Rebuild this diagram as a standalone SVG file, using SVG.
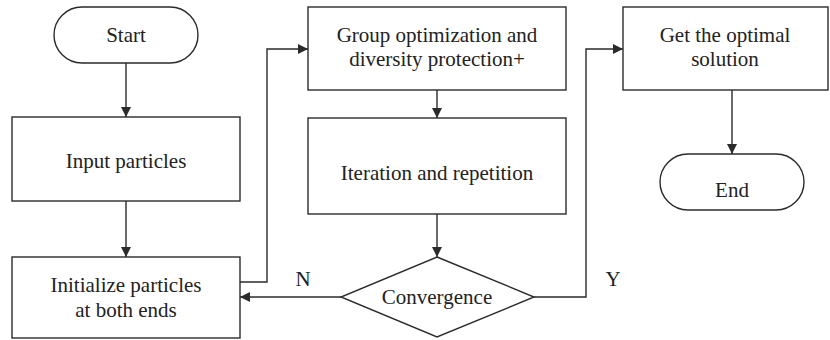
<svg xmlns="http://www.w3.org/2000/svg" width="830" height="340" viewBox="0 0 830 340">
  <style>
    .shape { fill: #ffffff; stroke: #2b2b2b; stroke-width: 1.4; }
    .label { font-family: "Liberation Serif", "Times New Roman", serif; font-size: 21px; fill: #222222; text-anchor: middle; }
    .wire { fill: none; stroke: #2b2b2b; stroke-width: 1.4; marker-end: url(#arrow); }
    .plain { fill: none; stroke: #2b2b2b; stroke-width: 1.4; }
  </style>
  <defs>
    <marker id="arrow" viewBox="0 0 10 10" refX="10" refY="5" markerWidth="10" markerHeight="10" markerUnits="userSpaceOnUse" orient="auto">
      <path d="M0,0 L10,5 L0,10 Z" fill="#2b2b2b"/>
    </marker>
  </defs>
  <rect width="830" height="340" fill="#ffffff"/>

  <g id="connectors">
    <path class="wire" d="M126,63 V117"/>
    <path class="wire" d="M126,201 V257"/>
    <path class="wire" d="M240,282 H267 V49 H308"/>
    <path class="wire" d="M437,90 V118"/>
    <path class="wire" d="M437,214 V257"/>
    <path class="wire" d="M341,297 H240"/>
    <path class="wire" d="M534,297 H586 V49 H623"/>
    <path class="wire" d="M732,90 V154"/>
    <text class="label" x="303" y="286">N</text>
    <text class="label" x="613" y="286">Y</text>
  </g>

  <g id="start">
    <rect class="shape" x="54" y="7" width="144" height="56" rx="28" ry="28"/>
    <text class="label" x="126" y="42">Start</text>
  </g>

  <g id="input">
    <rect class="shape" x="12" y="117" width="228" height="84"/>
    <text class="label" x="126" y="168">Input particles</text>
  </g>

  <g id="initialize">
    <rect class="shape" x="12" y="257" width="228" height="81"/>
    <text class="label" x="126" y="292">Initialize particles</text>
    <text class="label" x="126" y="317">at both ends</text>
  </g>

  <g id="group-optimization">
    <rect class="shape" x="308" y="7" width="258" height="83"/>
    <text class="label" x="437" y="42">Group optimization and</text>
    <text class="label" x="437" y="66">diversity protection+</text>
  </g>

  <g id="iteration">
    <rect class="shape" x="308" y="118" width="258" height="96"/>
    <text class="label" x="437" y="180">Iteration and repetition</text>
  </g>

  <g id="convergence">
    <polygon class="shape" points="437,257 534,297 437,337 341,297"/>
    <text class="label" x="437" y="304">Convergence</text>
  </g>

  <g id="optimal">
    <rect class="shape" x="623" y="7" width="205" height="83"/>
    <text class="label" x="725" y="42">Get the optimal</text>
    <text class="label" x="725" y="66">solution</text>
  </g>

  <g id="end">
    <rect class="shape" x="660" y="154" width="144" height="56" rx="28" ry="28"/>
    <text class="label" x="732" y="197">End</text>
  </g>
</svg>
